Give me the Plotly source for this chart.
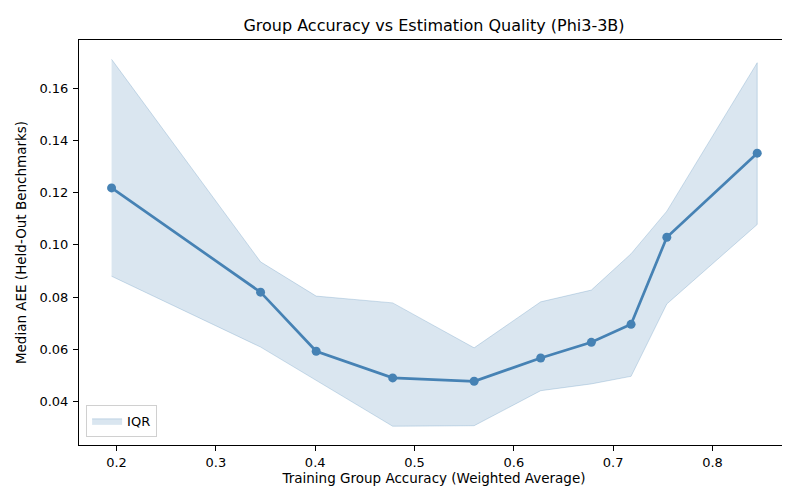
import plotly.graph_objects as go

acc = [0.195, 0.345, 0.401, 0.478, 0.560, 0.627, 0.678, 0.718, 0.754, 0.845]
median_aee = [0.1218, 0.0819, 0.0593, 0.0491, 0.0478, 0.0567, 0.0627, 0.0696, 0.1029, 0.1351]
q25 = [0.0880, 0.0609, 0.0483, 0.0306, 0.0308, 0.0442, 0.0468, 0.0497, 0.0774, 0.1078]
q75 = [0.1710, 0.0935, 0.0804, 0.0778, 0.0606, 0.0782, 0.0827, 0.0966, 0.1129, 0.1697]

color = "#4682B4"
font = "DejaVu Sans, sans-serif"

fig = go.Figure()
fig.add_trace(go.Scatter(
    x=acc + acc[::-1], y=q75 + q25[::-1],
    fill="toself", fillcolor="rgba(70,130,180,0.2)",
    line=dict(color="rgba(70,130,180,0.25)", width=1),
    mode="lines", name="IQR", showlegend=True, hoverinfo="skip",
))
fig.add_trace(go.Scatter(
    x=acc, y=median_aee, mode="lines+markers",
    line=dict(color=color, width=2.7),
    marker=dict(color=color, size=9),
    showlegend=False, name="Median AEE",
))

axis_common = dict(
    showgrid=False, zeroline=False, showline=True, linecolor="black", linewidth=1,
    mirror=True, ticks="outside", ticklen=5, tickcolor="black",
    tickfont=dict(family=font, size=13, color="black"),
)
fig.update_layout(
    width=790, height=490,
    margin=dict(l=71, r=9, t=32, b=53),
    paper_bgcolor="white", plot_bgcolor="white",
    font=dict(family=font, color="black"),
    title=dict(text="Group Accuracy vs Estimation Quality (Phi3-3B)",
               x=(71 + 781) / 2 / 790, xanchor="center", y=1 - 17 / 490, yanchor="middle",
               font=dict(family=font, size=16, color="black")),
    xaxis=dict(range=[0.1622, 0.877], dtick=0.1, tick0=0, tickformat=".1f",
               title=dict(text="Training Group Accuracy (Weighted Average)",
                          font=dict(family=font, size=13.5), standoff=1),
               **axis_common),
    yaxis=dict(range=[0.02342, 0.1784], dtick=0.02, tick0=0, tickformat=".2f",
               ticklabelstandoff=2,
               title=dict(text="Median AEE (Held-Out Benchmarks)",
                          font=dict(family=font, size=13.5), standoff=9),
               **axis_common),
    legend=dict(x=0.01, y=0.02, xanchor="left", yanchor="bottom",
                bordercolor="#d0d0d0", borderwidth=1, bgcolor="rgba(255,255,255,0.8)",
                font=dict(family=font, size=13)),
)

fig.write_html("out.html")
